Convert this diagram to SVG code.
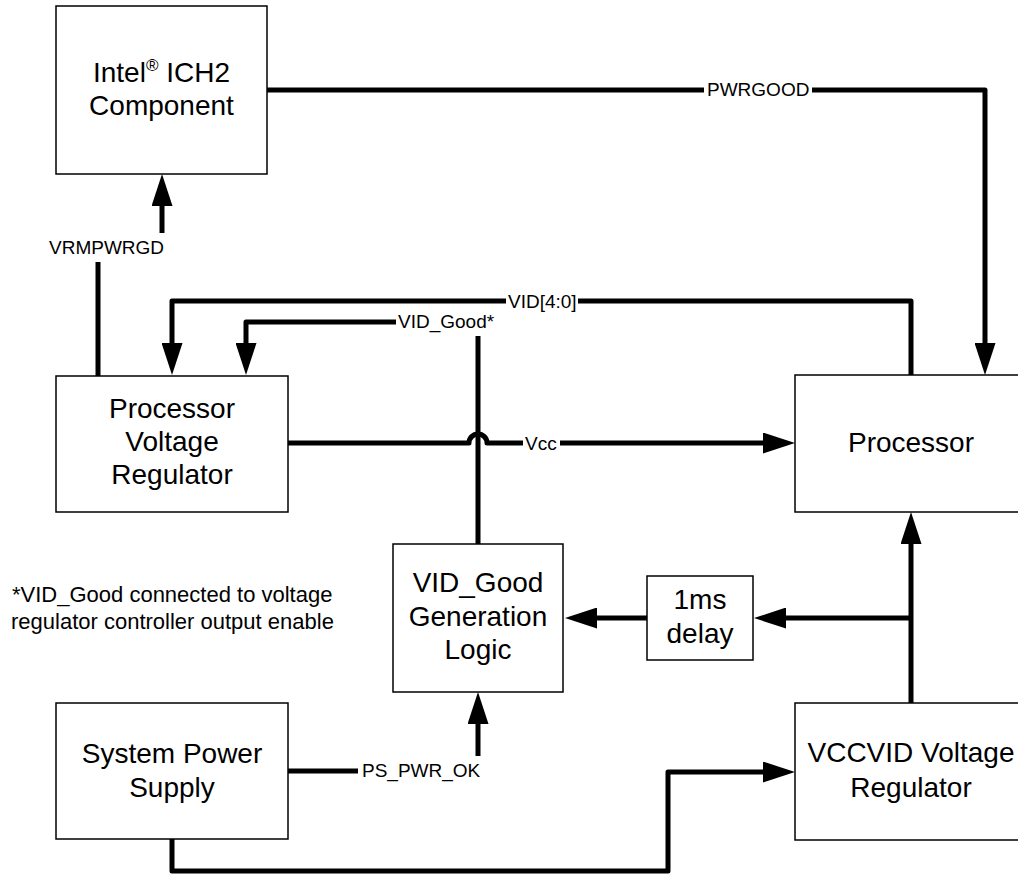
<svg xmlns="http://www.w3.org/2000/svg" width="1018" height="875" viewBox="0 0 1018 875">
<style>
.box{fill:#fff;stroke:#000;stroke-width:1.5}
.t{font-family:"Liberation Sans",Arial,sans-serif;font-size:28px;fill:#000;text-anchor:middle}
.lbl{font-family:"Liberation Sans",Arial,sans-serif;font-size:19px;fill:#000}
.note{font-family:"Liberation Sans",Arial,sans-serif;font-size:22px;fill:#000}
.w{fill:none;stroke:#000;stroke-width:5;stroke-linejoin:round}
.bg{fill:#fff}
</style>
<defs>
<marker id="ah" viewBox="0 0 32 21" refX="0" refY="10.5" markerWidth="32" markerHeight="21" markerUnits="userSpaceOnUse" orient="auto">
<path d="M0,0 L32,10.5 L0,21 z" fill="#000"/>
</marker>
</defs>
<rect width="1018" height="875" fill="#fff"/>
<g id="connectors">
<path class="w" d="M267,90 H985 V343" marker-end="url(#ah)"/>
<path class="w" d="M98,376 V262"/>
<path class="w" d="M162,233 V206" marker-end="url(#ah)"/>
<path class="w" d="M911,375 V301 H172 V343" marker-end="url(#ah)"/>
<path class="w" d="M478,545 V336"/>
<path class="w" d="M396,322 H246 V343" marker-end="url(#ah)"/>
<path class="w" d="M288,443 H469 A9,9 0 0 1 487,443 H763" marker-end="url(#ah)"/>
<path class="w" d="M911,703 V544" marker-end="url(#ah)"/>
<path class="w" d="M911,618 H786" marker-end="url(#ah)"/>
<path class="w" d="M647,618 H597" marker-end="url(#ah)"/>
<path class="w" d="M288,771 H358"/>
<path class="w" d="M478,756 V724" marker-end="url(#ah)"/>
<path class="w" d="M172,839 V871 H668 V772 H763" marker-end="url(#ah)"/>
<rect class="bg" x="704" y="78" width="108" height="24"/>
<text class="lbl" x="707" y="96">PWRGOOD</text>
<text class="lbl" x="49" y="254">VRMPWRGD</text>
<rect class="bg" x="506" y="290" width="72" height="24"/>
<text class="lbl" x="508" y="308">VID[4:0]</text>
<rect class="bg" x="397" y="311" width="99" height="24"/>
<text class="lbl" x="398" y="328">VID_Good*</text>
<rect class="bg" x="523" y="432" width="37" height="22"/>
<text class="lbl" x="525" y="450">Vcc</text>
<text class="lbl" x="362" y="777">PS_PWR_OK</text>
</g>
<g id="intel">
<rect class="box" x="56" y="6" width="211" height="168"/>
<text class="t" x="161.5" y="82">Intel<tspan font-size="17" dy="-11">®</tspan><tspan dy="11"> ICH2</tspan></text>
<text class="t" x="161.5" y="115">Component</text>
</g>
<g id="pvr">
<rect class="box" x="56" y="376" width="232" height="136"/>
<text class="t" x="172" y="418">Processor</text>
<text class="t" x="172" y="451">Voltage</text>
<text class="t" x="172" y="484">Regulator</text>
</g>
<g id="processor">
<rect class="box" x="795" y="375" width="232" height="137"/>
<text class="t" x="911" y="452">Processor</text>
</g>
<g id="vidgood">
<rect class="box" x="393" y="544" width="170" height="148"/>
<text class="t" x="478" y="592">VID_Good</text>
<text class="t" x="478" y="626">Generation</text>
<text class="t" x="478" y="659">Logic</text>
</g>
<g id="delay">
<rect class="box" x="647" y="576" width="106" height="84"/>
<text class="t" x="700" y="609">1ms</text>
<text class="t" x="700" y="643">delay</text>
</g>
<g id="sps">
<rect class="box" x="56" y="703" width="232" height="136"/>
<text class="t" x="172" y="763">System Power</text>
<text class="t" x="172" y="797">Supply</text>
</g>
<g id="vccvid">
<rect class="box" x="795" y="703" width="232" height="137"/>
<text class="t" x="911" y="762">VCCVID Voltage</text>
<text class="t" x="911" y="797">Regulator</text>
</g>
<g id="note">
<text class="note" x="12" y="602">*VID_Good connected to voltage</text>
<text class="note" x="11" y="629">regulator controller output enable</text>
</g>
</svg>
